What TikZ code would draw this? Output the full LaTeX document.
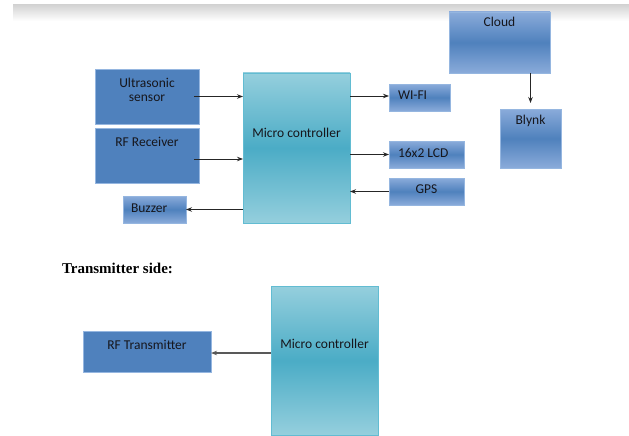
\documentclass[tikz,border=0pt]{standalone}
\usepackage{fontspec}
\setsansfont{Carlito}
\setmainfont{Liberation Serif}
\usepackage{tikz}
\usetikzlibrary{arrows.meta,positioning,calc}
\usepackage{xcolor}
\definecolor{boxblue}{HTML}{4F81BD}
\definecolor{boxbluelt}{HTML}{8AABDA}
\definecolor{boxedge}{HTML}{95B6E0}
\definecolor{mcmid}{HTML}{4BACC6}
\definecolor{mclt}{HTML}{95CFDD}
\definecolor{mcedge}{HTML}{62BCD2}
\definecolor{textdark}{HTML}{16161C}

\begin{document}
\begin{tikzpicture}[
    x=1pt, y=-1pt,
    every node/.style={inner sep=0pt, outer sep=0pt},
    txt/.style={font=\sffamily\fontsize{13.5}{14.5}\selectfont, text=textdark, align=center},
    solidbox/.style={rectangle, draw=boxedge, line width=0.6pt, fill=boxblue},
    gradbox/.style={rectangle, draw=boxedge, line width=0.8pt,
        top color=boxbluelt, bottom color=boxbluelt, middle color=boxblue},
    mcbox/.style={rectangle, draw=mcedge, line width=0.8pt,
        top color=mclt, bottom color=mclt, middle color=mcmid},
    arrow/.style={-{Stealth[length=6pt, width=4.5pt]}, line width=0.9pt, black!85}
]
\useasboundingbox (0,0) rectangle (629,436);

% Header band
\shade[top color=black!17, bottom color=white] (13,5) rectangle (629,21);

% Receiver side
\node[gradbox, minimum width=101pt, minimum height=61pt,
      label={[txt, below=5pt]north:Cloud}] (cloud) at (499.5,42.5) {};
\node[gradbox, minimum width=61pt, minimum height=59pt,
      label={[txt, below=6pt]north:Blynk}] (blynk) at (530.5,138.5) {};
\node[solidbox, minimum width=104pt, minimum height=55pt,
      label={[txt, below=9pt]north:Ultrasonic\\sensor}] (ultra) at (147,96.5) {};
\node[solidbox, minimum width=104pt, minimum height=55pt,
      label={[txt, below=9pt]north:RF Receiver}] (rfrx) at (147,155.5) {};
\node[mcbox, minimum width=107pt, minimum height=150pt,
      label={[txt, below=55pt]north:Micro controller}] (mc) at (296.5,148) {};
\node[gradbox, minimum width=63pt, minimum height=27pt,
      label={[txt, right=8pt, yshift=1pt]west:Buzzer}] (buzzer) at (154.5,209.5) {};
\node[gradbox, minimum width=61pt, minimum height=27pt,
      label={[txt, right=9pt, yshift=2pt]west:WI-FI}] (wifi) at (419.5,97.5) {};
\node[gradbox, minimum width=75pt, minimum height=27pt,
      label={[txt, right=9pt, yshift=2pt]west:16x2 LCD}] (lcd) at (426.5,154.5) {};
\node[gradbox, minimum width=75pt, minimum height=27pt,
      label={[txt, yshift=2pt]center:GPS}] (gps) at (426.5,191.5) {};

% Receiver arrows
\draw[arrow] ([xshift=-5pt]ultra.east) -- (ultra.east -| mc.west);
\draw[arrow] ([shift={(-5pt,-3.5pt)}]rfrx.east) -- ([yshift=-3.5pt]rfrx.east -| mc.west);
\draw[arrow] (mc.west |- buzzer.east) -- (buzzer.east);
\draw[arrow] ([yshift=1.5pt]mc.east |- wifi.west) -- ([yshift=1.5pt]wifi.west);
\draw[arrow] (mc.east |- lcd.west) -- (lcd.west);
\draw[arrow] (gps.west) -- (mc.east |- gps.west);
\draw[arrow] (cloud.south -| blynk.north) -- ([yshift=6pt]blynk.north);

% Transmitter side
\node[anchor=west, font=\rmfamily\bfseries\fontsize{15}{16}\selectfont] (txtitle) at (62,268) {Transmitter side:};
\node[mcbox, minimum width=107pt, minimum height=149pt,
      label={[txt, below=53pt]north:Micro controller}] (txmc) at (324.5,360.5) {};
\node[solidbox, minimum width=128pt, minimum height=41pt,
      label={[txt, below=9pt]north:RF Transmitter}] (rftx) at (147,351.5) {};
\draw[arrow, line width=1.3pt, black!65] ([yshift=-1.5pt]txmc.west |- rftx.east) -- ([yshift=-1.5pt]rftx.east);

\end{tikzpicture}
\end{document}
